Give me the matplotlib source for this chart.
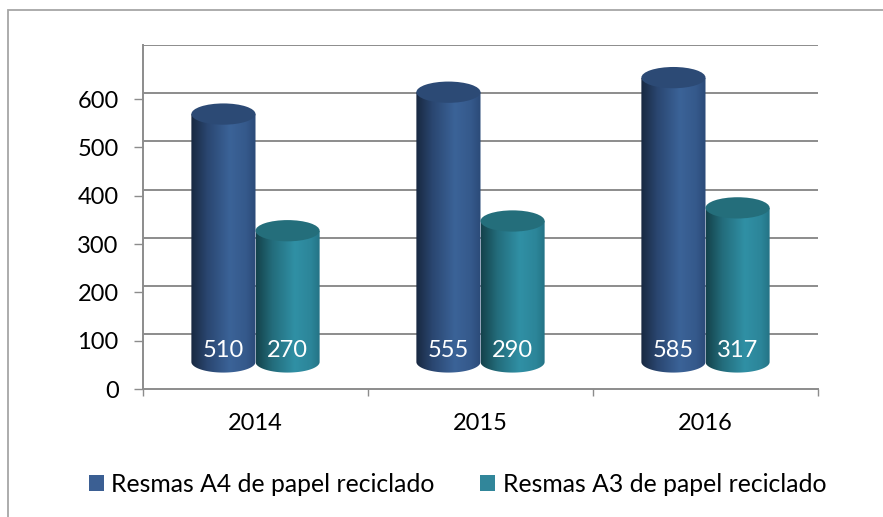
import numpy as np
import matplotlib.pyplot as plt
from matplotlib.patches import Ellipse, PathPatch, Patch, Rectangle
from matplotlib.path import Path
from matplotlib.colors import LinearSegmentedColormap

# datos
years = ['2014', '2015', '2016']
resmas_a4 = [510, 555, 585]
resmas_a3 = [270, 290, 317]
series_names = ['Resmas A4 de papel reciclado', 'Resmas A3 de papel reciclado']
y_ticks = [0, 100, 200, 300, 400, 500, 600]
grid_vals = [100, 200, 300, 400, 500, 600, 700]

plt.rcParams['font.family'] = ['Lato', 'DejaVu Sans']
FS = 17

# efecto 3D: cilindros un poco por encima del eje frontal, pared del fondo entre medias
BASE = 56
SCALE = 1.006
WALL = 14.5
WALL_SCALE = 0.996
ELL_H = 44
BAR_W = 0.285

A4_COLS = [(0, '#182840'), (0.25, '#2a4670'), (0.6, '#3b6398'), (0.85, '#35598b'), (1, '#2b4a78')]
A3_COLS = [(0, '#14424b'), (0.25, '#236c7b'), (0.6, '#3090a5'), (0.85, '#2c8599'), (1, '#237183')]
A4_TOP = '#2c4a75'
A3_TOP = '#246e7b'
A4_LEG = '#3b5f93'
A3_LEG = '#31869a'
GRAY = '#8c8c8c'


def cylinder(ax, x0, value, cols, top_col):
    x1 = x0 + BAR_W
    xc = x0 + BAR_W / 2
    top = BASE + SCALE * value
    theta = np.linspace(np.pi, 2 * np.pi, 80)
    bx = xc + BAR_W / 2 * np.cos(theta)
    by = BASE + ELL_H / 2 * np.sin(theta)
    verts = [(x0, top)] + list(zip(bx, by)) + [(x1, top), (x0, top)]
    clip = PathPatch(Path(verts, closed=True), transform=ax.transData)
    cmap = LinearSegmentedColormap.from_list('cyl', cols)
    grad = np.linspace(0, 1, 256).reshape(1, -1)
    im = ax.imshow(grad, cmap=cmap, extent=(x0, x1, BASE - ELL_H / 2, top),
                   aspect='auto', origin='lower', interpolation='bicubic', zorder=3)
    im.set_clip_path(clip)
    ax.add_patch(Ellipse((xc, top), BAR_W, ELL_H, fc=top_col, ec='none', zorder=4))
    ax.text(xc, BASE + 24, str(value), color='white', ha='center', va='center',
            fontsize=FS, zorder=5)


fig = plt.figure(figsize=(8.83, 5.17), dpi=100)
ax = fig.add_axes([143 / 883, 1 - 389 / 517, (818 - 143) / 883, (389 - 45) / 517])

# rejilla en la pared del fondo
for g in grid_vals:
    ax.axhline(WALL + WALL_SCALE * g, color=GRAY, lw=1.4, zorder=1)

for i in range(len(years)):
    c = i + 0.5
    cylinder(ax, c - BAR_W, resmas_a4[i], A4_COLS, A4_TOP)
    cylinder(ax, c, resmas_a3[i], A3_COLS, A3_TOP)

ax.set_xlim(0, 3)
ax.set_ylim(0, 712)

ax.set_yticks(y_ticks)
ax.tick_params(axis='y', length=6.5, width=1, color=GRAY, pad=11, labelsize=FS)
ax.set_xticks([0, 1, 2, 3])
ax.set_xticklabels([])
ax.set_xticks([0.5, 1.5, 2.5], minor=True)
ax.set_xticklabels(years, minor=True)
ax.tick_params(axis='x', which='major', length=5, width=1, color=GRAY)
ax.tick_params(axis='x', which='minor', length=0, pad=17, labelsize=FS)

for s in ['top', 'right']:
    ax.spines[s].set_visible(False)
for s in ['left', 'bottom']:
    ax.spines[s].set_color(GRAY)
    ax.spines[s].set_linewidth(1.4)

# borde del area del grafico
fig.patches.append(Rectangle((8 / 883, -0.05), 1.1, 1 - 10 / 517 + 0.05,
                             transform=fig.transFigure, fill=False,
                             ec='#a6a6a6', lw=1.3))

fig.legend(handles=[Patch(fc=A4_LEG), Patch(fc=A3_LEG)], labels=series_names,
           loc='center', bbox_to_anchor=(457.5 / 883, 1 - 484 / 517), ncol=2,
           frameon=False, fontsize=17.8, handlelength=0.6, handleheight=0.6,
           handletextpad=0.3, columnspacing=1.85, borderpad=0)

fig.savefig('out.png', dpi=100)
